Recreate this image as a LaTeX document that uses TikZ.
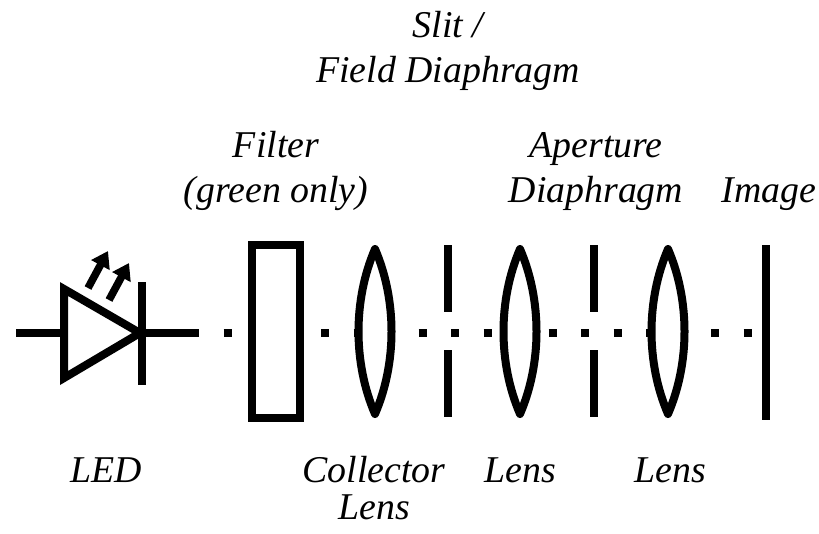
\documentclass[tikz,border=0pt]{standalone}
\usepackage{fontspec}
\setmainfont{Liberation Serif}
\usetikzlibrary{arrows.meta}

\begin{document}
\begin{tikzpicture}[x=0.025cm, y=-0.025cm,
		part/.style={line width=0.2cm},
		txt/.style={font=\fontsize{26.9}{31.9}\selectfont\itshape, align=center, anchor=base, inner sep=0pt},
		bottxt/.style={txt, font=\fontsize{26.9}{26.2}\selectfont\itshape},
		glow/.style={line width=0.19cm, -{Triangle[length=0.4cm, width=0.5cm]}}]
		\useasboundingbox (0,0) rectangle (819,533);
		
		% LED
		\coordinate (anode) at (16,333);
		\coordinate (cathode) at (142,333);
		\coordinate (out) at (191,333);
		\draw[part] (anode) -- (64,333);
		\draw[part, line join=miter] (64,289) -- (64,378) -- (140,333) -- cycle;
		\draw[part] (142,282) -- (142,385);
		\draw[part] (cathode) -- (out);
		\draw[glow] (88,288) -- (108,251);
		\draw[glow] (109,300) -- (129,263);
		
		% optical axis
		\coordinate (image) at (766,333);
		\draw[part, dash pattern=on 0.2cm off 0.6125cm] (out) -- (image);
		
		\node (filter) at (276,331.5) [draw, part, fill=white, minimum width=1.2cm, minimum height=4.325cm] {};
		\foreach \x in {375,520,668}
			\draw[part, fill=white, line join=round] (\x,249) .. controls (\x-22,300) and (\x-22,363) .. (\x,414)
				.. controls (\x+22,363) and (\x+22,300) .. (\x,249) -- cycle;
		\foreach \x in {448,594} {
			\draw[part] (\x,245) -- (\x,312);
			\draw[part] (\x,350) -- (\x,417);
		}
		\draw[part] (766,245) -- (766,420);
		
		% labels (base = last line)
		\node (slit) at (448,82) [txt] {Slit /\\Field Diaphragm};
		\node (filtertxt) at (276,202) [txt] {Filter\\(green only)};
		\node (aperture) at (596,202) [txt] {Aperture\\Diaphragm};
		\node (imagetxt) at (769,202) [txt] {Image};
		\node (led) at (106,482) [bottxt] {LED};
		\node (collector) at (374,519) [bottxt] {Collector\\Lens};
		\node (lens2) at (520,482) [bottxt] {Lens};
		\node (lens3) at (670,482) [bottxt] {Lens};
	\end{tikzpicture}
\end{document}
